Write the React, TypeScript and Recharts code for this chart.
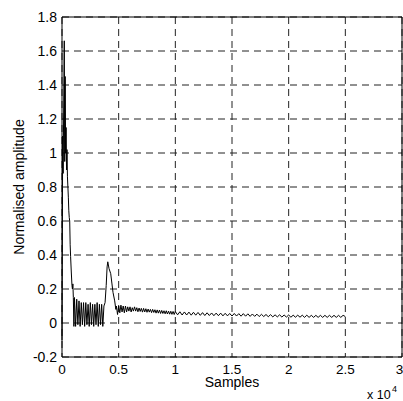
import React from 'react';
import { LineChart, Line, XAxis, YAxis, CartesianGrid, ReferenceLine } from 'recharts';

// samples are in units of 1e4, amplitude normalised
const onset: [number, number][] = [
  [0, -0.1], [0.006, 1.1], [0.01, 0.88], [0.014, 1.2], [0.02, 1.66], [0.024, 0.95],
  [0.028, 1.45], [0.032, 1.0], [0.036, 1.15], [0.04, 0.9], [0.044, 1.02], [0.048, 0.86],
  [0.052, 0.8], [0.056, 0.74], [0.06, 0.66], [0.064, 0.62], [0.068, 0.6], [0.072, 0.46],
  [0.076, 0.39], [0.082, 0.3], [0.088, 0.22], [0.092, 0.2], [0.096, 0.23], [0.1, 0.15],
];

const burst: [number, number][] = [
  [0.105, -0.02], [0.11, 0.15], [0.12, -0.02], [0.13, 0.14], [0.14, -0.01], [0.15, 0.13],
  [0.16, -0.02], [0.17, 0.12], [0.18, -0.01], [0.19, 0.12], [0.2, -0.02], [0.21, 0.12],
  [0.22, -0.01], [0.23, 0.11], [0.24, -0.02], [0.25, 0.12], [0.26, -0.01], [0.27, 0.11],
  [0.28, -0.02], [0.29, 0.11], [0.3, -0.01], [0.31, 0.12], [0.32, -0.02], [0.33, 0.11],
  [0.34, -0.01], [0.35, 0.11], [0.36, -0.02], [0.37, 0.1],
];

const echo: [number, number][] = [
  [0.38, 0.12], [0.39, 0.22], [0.398, 0.33], [0.404, 0.36], [0.415, 0.32], [0.43, 0.29],
  [0.44, 0.235], [0.45, 0.18], [0.465, 0.13], [0.475, 0.08],
];

const tailA: [number, number][] = [
  [0.48, 0.1], [0.49, 0.05], [0.5, 0.1], [0.51, 0.06], [0.52, 0.105], [0.53, 0.065],
  [0.54, 0.1], [0.55, 0.06], [0.56, 0.1], [0.57, 0.065], [0.58, 0.095], [0.59, 0.07],
  [0.6, 0.095], [0.61, 0.065], [0.62, 0.09], [0.63, 0.07], [0.64, 0.095], [0.65, 0.07],
  [0.66, 0.09], [0.67, 0.066], [0.68, 0.088], [0.69, 0.068], [0.7, 0.086], [0.71, 0.064],
  [0.72, 0.086], [0.73, 0.065], [0.74, 0.084], [0.75, 0.063], [0.76, 0.082], [0.77, 0.064],
  [0.78, 0.08], [0.79, 0.061], [0.8, 0.08], [0.81, 0.062], [0.82, 0.078], [0.83, 0.058],
  [0.84, 0.077], [0.85, 0.058], [0.86, 0.076], [0.87, 0.056], [0.88, 0.074], [0.89, 0.056],
  [0.9, 0.072], [0.91, 0.054], [0.92, 0.072], [0.93, 0.053], [0.94, 0.07], [0.95, 0.052],
  [0.96, 0.069], [0.97, 0.051], [0.98, 0.068], [0.99, 0.05], [1.0, 0.067],
];

const tailB: [number, number][] = [
  [1.02, 0.048], [1.04, 0.066], [1.06, 0.047], [1.08, 0.065], [1.1, 0.047], [1.12, 0.064],
  [1.14, 0.046], [1.16, 0.063], [1.18, 0.046], [1.2, 0.062], [1.22, 0.045], [1.24, 0.061],
  [1.26, 0.044], [1.28, 0.06], [1.3, 0.044], [1.32, 0.059], [1.34, 0.043], [1.36, 0.058],
  [1.38, 0.043], [1.4, 0.058], [1.42, 0.042], [1.44, 0.057], [1.46, 0.042], [1.48, 0.056],
  [1.5, 0.041], [1.52, 0.056], [1.54, 0.041], [1.56, 0.055], [1.58, 0.04], [1.6, 0.055],
  [1.62, 0.04], [1.64, 0.054], [1.66, 0.039], [1.68, 0.053], [1.7, 0.039], [1.72, 0.052],
  [1.74, 0.038], [1.76, 0.051], [1.78, 0.038], [1.8, 0.05], [1.82, 0.037], [1.84, 0.049],
  [1.86, 0.036], [1.88, 0.048], [1.9, 0.036], [1.92, 0.048], [1.94, 0.035], [1.96, 0.047],
  [1.98, 0.035], [2.0, 0.047], [2.02, 0.034], [2.04, 0.046], [2.06, 0.034], [2.08, 0.046],
  [2.1, 0.034], [2.12, 0.046], [2.14, 0.033], [2.16, 0.046], [2.18, 0.033], [2.2, 0.045],
  [2.22, 0.033], [2.24, 0.045], [2.26, 0.033], [2.28, 0.045], [2.3, 0.033], [2.32, 0.045],
  [2.34, 0.033], [2.36, 0.045], [2.38, 0.033], [2.4, 0.045], [2.42, 0.033], [2.44, 0.045],
  [2.46, 0.033], [2.48, 0.045], [2.5, 0.038],
];

const xTicks = [0, 0.5, 1, 1.5, 2, 2.5, 3];
const yTicks = [-0.2, 0, 0.2, 0.4, 0.6, 0.8, 1, 1.2, 1.4, 1.6, 1.8];

const data = [...onset, ...burst, ...echo, ...tailA, ...tailB].map(([x, y]) => ({ x, y }));

const font = '"Liberation Sans", Arial, sans-serif';

const XNote = (props: any) => {
  const { viewBox } = props;
  const cx = viewBox.x + viewBox.width / 2;
  return (
    <g fontFamily={font} fill="#000">
      <text x={cx} y={viewBox.y + 30} fontSize={14} textAnchor="middle">Samples</text>
      <text x={367} y={399} fontSize={12.5}>x 10</text>
      <text x={392} y={392} fontSize={9}>4</text>
    </g>
  );
};

const YNote = (props: any) => {
  const { viewBox } = props;
  const cy = viewBox.y + viewBox.height / 2;
  return (
    <text
      x={19}
      y={cy}
      fontSize={14}
      fontFamily={font}
      fill="#000"
      textAnchor="middle"
      dominantBaseline="central"
      transform={`rotate(-90 19 ${cy})`}
    >
      Normalised amplitude
    </text>
  );
};

export default function App() {
  return (
    <div style={{ position: 'absolute', left: 0, top: 0, width: 403, height: 401, background: '#fff' }}>
      <LineChart width={403} height={401} data={data} margin={{ top: 17, right: 1, bottom: 14, left: 22 }}>
        <CartesianGrid stroke="#222" strokeDasharray="7 5" />
        <XAxis
          dataKey="x"
          type="number"
          domain={[0, 3]}
          ticks={xTicks}
          height={30}
          tickLine={false}
          tickSize={4}
          tickMargin={3}
          axisLine={{ stroke: '#000' }}
          tick={{ fill: '#000', fontSize: 13.5, fontFamily: font }}
          label={<XNote />}
        />
        <YAxis
          type="number"
          domain={[-0.2, 1.8]}
          ticks={yTicks}
          width={40}
          tickLine={false}
          tickSize={3}
          tickMargin={2}
          axisLine={{ stroke: '#000' }}
          tick={{ fill: '#000', fontSize: 14, fontFamily: font }}
          label={<YNote />}
        />
        <ReferenceLine y={1.8} stroke="#000" />
        <ReferenceLine x={3} stroke="#000" />
        <Line
          type="linear"
          dataKey="y"
          stroke="#000"
          strokeWidth={1}
          dot={false}
          isAnimationActive={false}
        />
      </LineChart>
    </div>
  );
}
